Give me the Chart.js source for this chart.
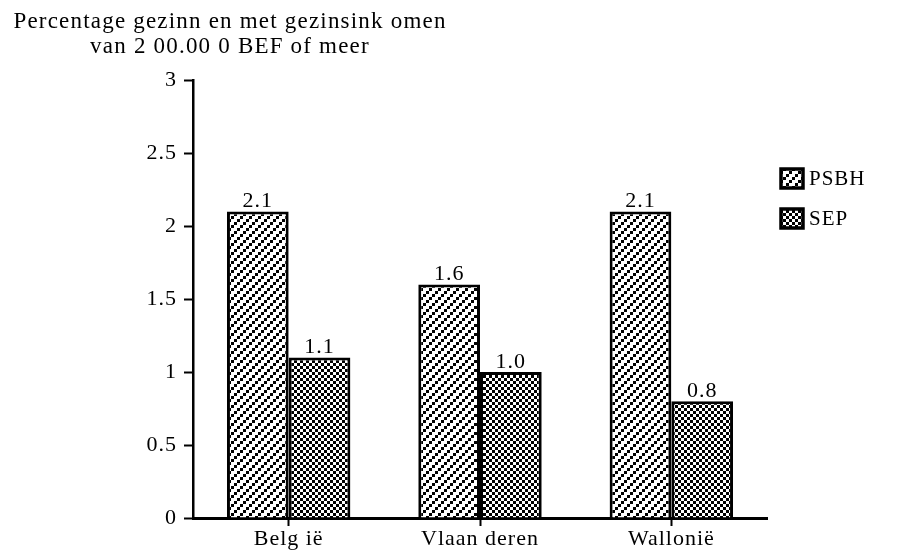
<!DOCTYPE html>
<html>
<head>
<meta charset="utf-8">
<script src="https://cdn.jsdelivr.net/npm/chart.js@4/dist/chart.umd.min.js"></script>
<style>
  html, body { margin: 0; padding: 0; background: #fff; }
  #wrap { width: 897px; height: 553px; }
</style>
</head>
<body>
<div id="wrap"><canvas id="incomeChart" width="897" height="553"></canvas></div>
<script>
const regions = ['Belg ië', 'Vlaan deren', 'Wallonië'];
const seriesNames = ['PSBH', 'SEP'];
const psbhValues = [2.1, 1.6, 2.1];
const sepValues = [1.1, 1.0, 0.8];
const yTicks = [0, 0.5, 1, 1.5, 2, 2.5, 3];
const titleLines = ['Percentage gezinn en met gezinsink omen', 'van 2 00.00 0 BEF of meer'];

const serif = '"Liberation Serif", "Times New Roman", serif';

// stair-step diagonal lines made of 3px blocks
function hatchPattern() {
    const c = document.createElement('canvas');
    c.width = 9; c.height = 9;
    const g = c.getContext('2d');
    g.fillStyle = '#fff';
    g.fillRect(0, 0, 9, 9);
    g.fillStyle = '#000';
    for (let bx = 0; bx < 3; bx++) {
        for (let by = 0; by < 3; by++) {
            if ((bx + by) % 3 === 2) g.fillRect(bx * 3, by * 3, 3, 3);
        }
    }
    return g.createPattern(c, 'repeat');
}

function checkerPattern() {
    const c = document.createElement('canvas');
    c.width = 6; c.height = 6;
    const g = c.getContext('2d');
    g.fillStyle = '#fff';
    g.fillRect(0, 0, 6, 6);
    g.fillStyle = '#000';
    g.fillRect(0, 0, 3, 3);
    g.fillRect(3, 3, 3, 3);
    return g.createPattern(c, 'repeat');
}

const fills = [hatchPattern(), checkerPattern()];

const spacing = {
    id: 'spacing',
    beforeDraw(chart) { chart.ctx.letterSpacing = '1px'; }
};

// value labels above bars, title, legend
const extras = {
    id: 'extras',
    afterDatasetsDraw(chart) {
        const ctx = chart.ctx;
        ctx.save();
        ctx.fillStyle = '#000';
        ctx.letterSpacing = '1px';
        ctx.font = '22px ' + serif;
        ctx.textAlign = 'center';
        ctx.textBaseline = 'bottom';
        chart.data.datasets.forEach((ds, i) => {
            chart.getDatasetMeta(i).data.forEach((bar, j) => {
                ctx.fillText(ds.data[j].toFixed(1), bar.x, bar.y + 1);
            });
        });

        ctx.font = '23px ' + serif;
        ctx.letterSpacing = '1.2px';
        ctx.textBaseline = 'alphabetic';
        ctx.fillText(titleLines[0], 230, 28);
        ctx.fillText(titleLines[1], 230, 53);

        ctx.textAlign = 'left';
        ctx.textBaseline = 'middle';
        ctx.font = '21px ' + serif;
        ctx.letterSpacing = '1px';
        chart.data.datasets.forEach((ds, i) => {
            const y = 169 + i * 40;
            ctx.fillStyle = ds.backgroundColor;
            ctx.fillRect(781, y, 22, 19);
            ctx.lineWidth = 3.5;
            ctx.strokeStyle = '#000';
            ctx.strokeRect(781, y, 22, 19);
            ctx.fillStyle = '#000';
            ctx.fillText(ds.label, 809, y + 10);
        });
        ctx.restore();
    }
};

new Chart(document.getElementById('incomeChart'), {
    type: 'bar',
    data: {
        labels: regions,
        datasets: [
            { label: seriesNames[0], data: psbhValues, backgroundColor: fills[0] },
            { label: seriesNames[1], data: sepValues, backgroundColor: fills[1] }
        ].map(ds => Object.assign(ds, {
            borderColor: '#000',
            borderWidth: 3,
            borderSkipped: 'bottom',
            categoryPercentage: 0.645,
            barPercentage: 1
        }))
    },
    options: {
        responsive: false,
        animation: false,
        layout: { padding: { left: 0, right: 130, top: 80, bottom: 0 } },
        plugins: {
            legend: { display: false },
            tooltip: { enabled: false }
        },
        scales: {
            x: {
                offset: true,
                grid: {
                    offset: false,
                    drawOnChartArea: false,
                    tickLength: 8,
                    tickWidth: 2,
                    color: '#000'
                },
                border: { color: '#000', width: 3 },
                ticks: { color: '#000', font: { family: serif, size: 22 }, padding: 0 },
                afterFit(scale) { scale.height = 35; }
            },
            y: {
                min: 0,
                max: 3,
                afterBuildTicks(scale) { scale.ticks = yTicks.map(v => ({ value: v })); },
                grid: {
                    drawOnChartArea: false,
                    tickLength: 9,
                    tickWidth: 2,
                    color: '#000'
                },
                border: { color: '#000', width: 2.5 },
                ticks: {
                    color: '#000',
                    font: { family: serif, size: 22 },
                    padding: 7,
                    callback: v => String(v)
                },
                afterFit(scale) { scale.width = 193; }
            }
        }
    },
    plugins: [spacing, extras]
});
</script>
</body>
</html>
